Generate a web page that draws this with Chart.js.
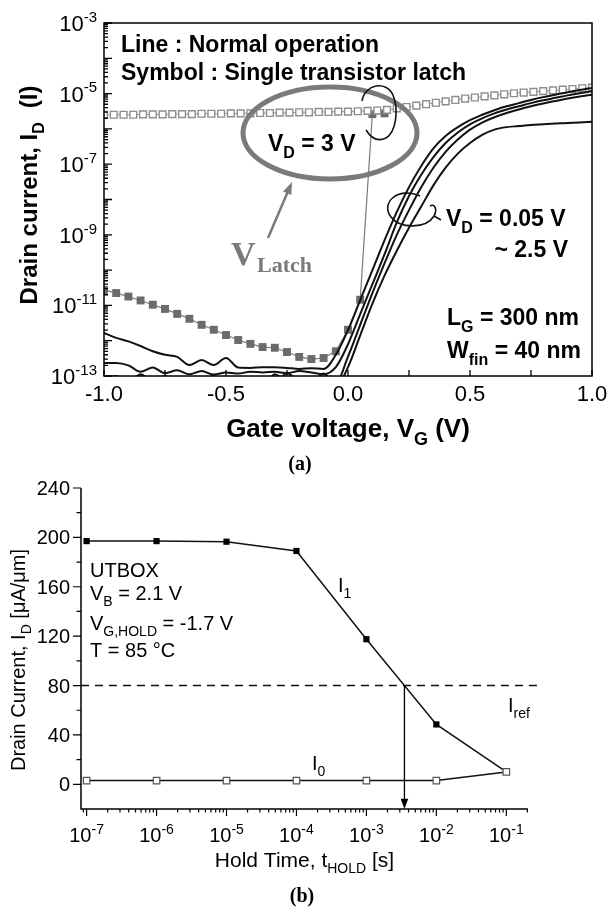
<!DOCTYPE html>
<html>
<head>
<meta charset="utf-8">
<script src="https://cdn.jsdelivr.net/npm/chart.js@4.4.1/dist/chart.umd.min.js"></script>
<style>
  html, body { margin: 0; padding: 0; background: #fff; }
  #wrap { position: relative; width: 608px; height: 909px; overflow: hidden; }
  canvas { position: absolute; left: 0; }
  #cTop { top: 0; }
  #cBot { top: 478px; }
</style>
</head>
<body>
<div id="wrap">
  <canvas id="cTop" width="608" height="478"></canvas>
  <canvas id="cBot" width="608" height="431"></canvas>
</div>
<script>
// ---- (a) transfer curves, values are log10(I_D / A) ----
const vgOpen = [-1.00, -0.96, -0.92, -0.88, -0.84, -0.80, -0.76, -0.72, -0.68, -0.64, -0.60, -0.56, -0.52,
  -0.48, -0.44, -0.40, -0.36, -0.32, -0.28, -0.24, -0.20, -0.16, -0.12, -0.08, -0.04,
  0.00, 0.04, 0.08, 0.12, 0.16, 0.20, 0.24, 0.28, 0.32, 0.36, 0.40, 0.44, 0.48, 0.52,
  0.56, 0.60, 0.64, 0.68, 0.72, 0.76, 0.80, 0.84, 0.88, 0.92, 0.96, 1.00];
// latch, forward sweep (open symbols)
const latchOnLog = [-5.60, -5.60, -5.60, -5.60, -5.59, -5.59, -5.59, -5.58, -5.58, -5.58, -5.57, -5.57, -5.57,
  -5.56, -5.56, -5.56, -5.55, -5.55, -5.54, -5.54, -5.53, -5.53, -5.52, -5.52, -5.51,
  -5.51, -5.50, -5.49, -5.48, -5.46, -5.42, -5.38, -5.34, -5.30, -5.26, -5.22, -5.18, -5.14, -5.11,
  -5.08, -5.05, -5.02, -4.99, -4.97, -4.95, -4.93, -4.91, -4.89, -4.87, -4.85, -4.83];

const vgFilled = [-1.00, -0.95, -0.90, -0.85, -0.80, -0.75, -0.70, -0.65, -0.60, -0.55, -0.50, -0.45,
  -0.40, -0.35, -0.30, -0.25, -0.20, -0.15, -0.10, -0.05, 0.00, 0.05, 0.10, 0.15];
// latch, reverse sweep (filled symbols) - jumps up at V_Latch
const latchOffLog = [-10.56, -10.65, -10.75, -10.86, -10.98, -11.10, -11.24, -11.38, -11.55, -11.69, -11.84, -11.98,
  -12.09, -12.18, -12.20, -12.32, -12.46, -12.52, -12.49, -12.30, -11.69, -10.84, -5.58, -5.56];

const vgLine = [-1.00, -0.95, -0.90, -0.85, -0.80, -0.75, -0.70, -0.65, -0.60, -0.55, -0.50, -0.45, -0.40,
  -0.35, -0.30, -0.25, -0.20, -0.15, -0.10, -0.05, 0.00, 0.05, 0.10, 0.15, 0.20, 0.25, 0.30,
  0.35, 0.40, 0.45, 0.50, 0.55, 0.60, 0.65, 0.70, 0.75, 0.80, 0.85, 0.90, 0.95, 1.00];
// normal operation, V_D from 2.5 V down to 0.05 V
const normalLog1 = [-11.78, -11.92, -12.02, -12.15, -12.30, -12.40, -12.46, -12.69, -12.55, -12.69, -12.49, -12.76, -12.77,
  -12.75, -12.75, -12.77, -12.80, -12.78, -12.80, -12.40, -11.70, -10.85, -10.00, -9.15, -8.35, -7.65, -7.05,
  -6.55, -6.20, -5.95, -5.75, -5.60, -5.47, -5.36, -5.27, -5.18, -5.10, -5.03, -4.96, -4.90, -4.84];
const normalLog2 = [-12.63, -12.63, -12.70, -12.88, -12.76, -12.92, -12.84, -12.95, -12.86, -12.96, -12.90, -12.93, -12.88,
  -12.90, -12.88, -12.92, -12.86, -12.90, -12.95, -12.75, -12.10, -11.25, -10.40, -9.55, -8.65, -7.90, -7.30,
  -6.80, -6.40, -6.10, -5.87, -5.70, -5.56, -5.45, -5.36, -5.27, -5.19, -5.12, -5.05, -4.99, -4.93];
const normalLog3 = [-13.10, -13.00, -13.20, -12.95, -13.15, -13.00, -13.20, -13.05, -13.15, -13.00, -13.20, -13.10, -13.20,
  -13.15, -13.20, -12.92, -13.15, -13.20, -13.10, -13.20, -12.45, -11.55, -10.65, -9.80, -9.00, -8.30, -7.65,
  -7.10, -6.65, -6.30, -6.02, -5.82, -5.67, -5.55, -5.45, -5.36, -5.28, -5.21, -5.14, -5.08, -5.03];
const normalLog4 = [-13.20, -13.10, -13.25, -13.10, -13.30, -13.15, -13.25, -13.10, -13.30, -13.20, -13.30, -13.15, -13.25,
  -13.30, -12.95, -13.20, -13.30, -13.25, -12.93, -13.30, -12.75, -11.85, -10.95, -10.15, -9.45, -8.80, -8.20,
  -7.60, -7.10, -6.70, -6.40, -6.17, -6.02, -5.95, -5.92, -5.89, -5.87, -5.85, -5.83, -5.82, -5.80];

const vgTicks = [-1.0, -0.75, -0.5, -0.25, 0.0, 0.25, 0.5, 0.75, 1.0];
const vgLabels = [-1.0, -0.5, 0.0, 0.5, 1.0];
const idDecadeLabels = [-3, -5, -7, -9, -11, -13];

// ---- (b) retention ----
const holdTime = [1e-7, 1e-6, 1e-5, 1e-4, 1e-3, 1e-2, 1e-1];
const current1 = [197, 197, 196.5, 189, 117.5, 48.5, 10];
const current0 = [3, 3, 3, 3, 3, 3, 10];
const iRef = 80;
const refSpan = [8.3e-8, 0.3];
const holdDecades = [-7, -6, -5, -4, -3, -2, -1];
const currentTicks = [0, 40, 80, 120, 160, 200, 240];

const SANS = '"Liberation Sans", Arial, Helvetica, sans-serif';
const SERIF = '"Liberation Serif", "Times New Roman", serif';

// text with sub/superscripts; parts are [text, 'sub'|'sup'] or a number (extra gap)
function drawRich(ctx, x, y, parts, o) {
  const size = o.size, weight = o.weight || 'normal', family = o.family || SANS;
  const segs = parts.map(p => {
    if (typeof p === 'number') return { gap: p };
    const s = p[1] ? Math.round(size * 0.68) : size;
    ctx.font = `${weight} ${s}px ${family}`;
    return { t: p[0], k: p[1], s, w: ctx.measureText(p[0]).width };
  });
  const total = segs.reduce((acc, s) => acc + (s.gap || s.w), 0);
  let cx = o.align === 'center' ? x - total / 2 : o.align === 'right' ? x - total : x;
  ctx.textAlign = 'left';
  ctx.textBaseline = 'alphabetic';
  ctx.fillStyle = o.color || '#000';
  segs.forEach(s => {
    if (s.gap) { cx += s.gap; return; }
    ctx.font = `${weight} ${s.s}px ${family}`;
    const dy = s.k === 'sub' ? size * 0.3 : s.k === 'sup' ? -size * 0.42 : 0;
    ctx.fillText(s.t, cx, y + dy);
    cx += s.w;
  });
}

function arrow(ctx, x0, y0, x1, y1, head, color, lw) {
  const ang = Math.atan2(y1 - y0, x1 - x0);
  ctx.strokeStyle = color; ctx.fillStyle = color; ctx.lineWidth = lw;
  ctx.beginPath();
  ctx.moveTo(x0, y0);
  ctx.lineTo(x1 - Math.cos(ang) * head * 0.8, y1 - Math.sin(ang) * head * 0.8);
  ctx.stroke();
  ctx.beginPath();
  ctx.moveTo(x1, y1);
  ctx.lineTo(x1 - head * Math.cos(ang - 0.35), y1 - head * Math.sin(ang - 0.35));
  ctx.lineTo(x1 - head * Math.cos(ang + 0.35), y1 - head * Math.sin(ang + 0.35));
  ctx.closePath();
  ctx.fill();
}

const pts = (xs, logs) => xs.map((v, i) => ({ x: v, y: 10 ** logs[i] }));
const normalCurve = logs => ({
  data: pts(vgLine, logs), borderColor: '#111', borderWidth: 2, pointRadius: 0,
  cubicInterpolationMode: 'monotone'
});

const topDecor = {
  id: 'topDecor',
  afterDatasetsDraw(chart) {
    const { ctx, chartArea: a, scales: { x, y } } = chart;
    ctx.save();
    ctx.strokeStyle = '#000';
    ctx.lineWidth = 1.5;
    ctx.strokeRect(a.left, a.top, a.width, a.height);

    // inward ticks
    ctx.lineWidth = 1.3;
    ctx.beginPath();
    for (let e = -13; e <= -3; e++) {
      const py = y.getPixelForValue(10 ** e);
      ctx.moveTo(a.left, py); ctx.lineTo(a.left + 8, py);
      if (e < -3) {
        for (let m = 2; m <= 9; m++) {
          const pm = y.getPixelForValue(m * 10 ** e);
          ctx.moveTo(a.left, pm); ctx.lineTo(a.left + 4, pm);
        }
      }
    }
    vgTicks.forEach(v => {
      const px = x.getPixelForValue(v);
      ctx.moveTo(px, a.bottom); ctx.lineTo(px, a.bottom - 6);
    });
    ctx.stroke();

    idDecadeLabels.forEach(e => {
      const py = y.getPixelForValue(10 ** e);
      drawRich(ctx, a.left - 7, py + 8, [['10'], [String(e), 'sup']], { size: 22, align: 'right' });
    });
    vgLabels.forEach(v => {
      drawRich(ctx, x.getPixelForValue(v), a.bottom + 25, [[v.toFixed(1)]], { size: 22, align: 'center' });
    });

    // axis titles
    drawRich(ctx, (a.left + a.right) / 2, 437, [['Gate voltage, V'], ['G', 'sub'], [' (V)']],
      { size: 26, weight: 'bold', align: 'center' });
    ctx.save();
    ctx.translate(28, 195);
    ctx.rotate(-Math.PI / 2);
    drawRich(ctx, 0, 8.5, [['Drain current, I'], ['D', 'sub'], 14, ['(I)']],
      { size: 24, weight: 'bold', align: 'center' });
    ctx.restore();
    drawRich(ctx, 300, 470, [['(a)']], { size: 20, weight: 'bold', family: SERIF, align: 'center' });

    // annotations
    const b = { size: 23, weight: 'bold' };
    drawRich(ctx, 121, 52, [['Line : Normal operation']], b);
    drawRich(ctx, 121, 80, [['Symbol : Single transistor latch']], b);
    drawRich(ctx, 268, 151, [['V'], ['D', 'sub'], [' = 3 V']], b);
    drawRich(ctx, 446, 226, [['V'], ['D', 'sub'], [' = 0.05 V']], b);
    drawRich(ctx, 568, 257, [['~ 2.5 V']], { ...b, align: 'right' });
    drawRich(ctx, 447, 325, [['L'], ['G', 'sub'], [' = 300 nm']], b);
    drawRich(ctx, 447, 358, [['W'], ['fin', 'sub'], [' = 40 nm']], b);

    // V_Latch marker
    ctx.strokeStyle = '#7a7a7a';
    ctx.lineWidth = 5;
    ctx.beginPath();
    ctx.ellipse(330, 133, 87, 46, 0, 0, Math.PI * 2);
    ctx.stroke();
    arrow(ctx, 268, 238, 292, 182, 13, '#7a7a7a', 2.5);
    ctx.fillStyle = '#7a7a7a';
    ctx.font = `bold 34px ${SERIF}`;
    ctx.fillText('V', 231, 265);
    ctx.font = `bold 22px ${SERIF}`;
    ctx.fillText('Latch', 257, 272);

    // grouping loops
    ctx.strokeStyle = '#111';
    ctx.lineWidth = 1.6;
    ctx.beginPath();
    ctx.moveTo(362, 101);
    ctx.bezierCurveTo(365, 84, 386, 80, 393, 95);
    ctx.bezierCurveTo(399, 110, 396, 132, 386, 138);
    ctx.bezierCurveTo(378, 142, 371, 138, 366, 130);
    ctx.stroke();
    ctx.beginPath();
    ctx.moveTo(420, 196);
    ctx.bezierCurveTo(398, 186, 380, 203, 391, 217);
    ctx.bezierCurveTo(400, 229, 426, 229, 434, 216);
    ctx.bezierCurveTo(438, 209, 434, 203, 430, 206);
    ctx.moveTo(434, 216);
    ctx.lineTo(441, 220);
    ctx.stroke();
    ctx.restore();
  }
};

new Chart(document.getElementById('cTop'), {
  type: 'line',
  data: {
    datasets: [
      normalCurve(normalLog1),
      normalCurve(normalLog2),
      normalCurve(normalLog3),
      normalCurve(normalLog4),
      {
        data: pts(vgOpen, latchOnLog), borderColor: '#9c9c9c', borderWidth: 1,
        pointStyle: 'rect', pointRadius: 4.8, pointBackgroundColor: '#fff',
        pointBorderColor: '#8e8e8e', pointBorderWidth: 1.4
      },
      {
        data: pts(vgFilled, latchOffLog), borderColor: '#7a7a7a', borderWidth: 1.2,
        pointStyle: 'rect', pointRadius: 5.6, pointBackgroundColor: '#6b6b6b',
        pointBorderColor: '#6b6b6b', pointBorderWidth: 0
      }
    ]
  },
  options: {
    responsive: false, animation: false, events: [],
    layout: { padding: { left: 104, right: 16, top: 23, bottom: 102 } },
    plugins: { legend: { display: false }, tooltip: { enabled: false } },
    scales: {
      x: { type: 'linear', min: -1, max: 1, display: false },
      y: { type: 'logarithmic', min: 1e-13, max: 1e-3, display: false }
    }
  },
  plugins: [topDecor]
});

const botDecor = {
  id: 'botDecor',
  afterDatasetsDraw(chart) {
    const { ctx, chartArea: a, scales: { x, y } } = chart;
    ctx.save();
    ctx.strokeStyle = '#000';
    ctx.lineWidth = 1.5;
    ctx.beginPath();
    ctx.moveTo(a.left, a.top); ctx.lineTo(a.left, a.bottom); ctx.lineTo(a.right, a.bottom);
    ctx.stroke();

    // outward ticks
    ctx.lineWidth = 1.2;
    ctx.beginPath();
    currentTicks.forEach(v => {
      const py = y.getPixelForValue(v);
      ctx.moveTo(a.left - 8, py); ctx.lineTo(a.left, py);
      if (v < 240) {
        const pm = y.getPixelForValue(v + 20);
        ctx.moveTo(a.left - 4.5, pm); ctx.lineTo(a.left, pm);
      }
    });
    for (let e = -8; e <= -1; e++) {
      for (let m = 1; m <= 9; m++) {
        const v = m * 10 ** e;
        if (v < x.min || v > x.max) continue;
        const px = x.getPixelForValue(v);
        ctx.moveTo(px, a.bottom); ctx.lineTo(px, a.bottom + (m === 1 ? 7 : 3.5));
      }
    }
    ctx.stroke();

    currentTicks.forEach(v => {
      drawRich(ctx, a.left - 11, y.getPixelForValue(v) + 7, [[String(v)]], { size: 20, align: 'right' });
    });
    holdDecades.forEach(e => {
      drawRich(ctx, x.getPixelForValue(10 ** e), a.bottom + 33, [['10'], [String(e), 'sup']],
        { size: 20, align: 'center' });
    });

    drawRich(ctx, (a.left + a.right) / 2, a.bottom + 58, [['Hold Time, t'], ['HOLD', 'sub'], [' [s]']],
      { size: 21, align: 'center' });
    ctx.save();
    ctx.translate(18, 182);
    ctx.rotate(-Math.PI / 2);
    drawRich(ctx, 0, 7, [['Drain Current, I'], ['D', 'sub'], [' [\u03bcA/\u03bcm]']], { size: 20, align: 'center' });
    ctx.restore();
    drawRich(ctx, 302, 424, [['(b)']], { size: 20, weight: 'bold', family: SERIF, align: 'center' });

    // threshold crossing of I1 with Iref (log-time interpolation)
    let tCross = holdTime[0];
    for (let i = 1; i < holdTime.length; i++) {
      if (current1[i - 1] >= iRef && current1[i] < iRef) {
        const f = (current1[i - 1] - iRef) / (current1[i - 1] - current1[i]);
        tCross = 10 ** (Math.log10(holdTime[i - 1]) + f * (Math.log10(holdTime[i]) - Math.log10(holdTime[i - 1])));
        break;
      }
    }
    const px = x.getPixelForValue(tCross);
    arrow(ctx, px, y.getPixelForValue(iRef), px, a.bottom, 11, '#000', 1.3);

    const t = { size: 20 };
    drawRich(ctx, 90, 99, [['UTBOX']], t);
    drawRich(ctx, 90, 122, [['V'], ['B', 'sub'], [' = 2.1 V']], t);
    drawRich(ctx, 90, 152, [['V'], ['G,HOLD', 'sub'], [' = -1.7 V']], t);
    drawRich(ctx, 90, 179, [['T = 85 \u00b0C']], t);
    drawRich(ctx, 338, 114, [['I'], ['1', 'sub']], t);
    drawRich(ctx, 312, 292, [['I'], ['0', 'sub']], t);
    drawRich(ctx, 508, 234, [['I'], ['ref', 'sub']], t);
    ctx.restore();
  }
};

new Chart(document.getElementById('cBot'), {
  type: 'line',
  data: {
    datasets: [
      {
        data: holdTime.map((t, i) => ({ x: t, y: current0[i] })), borderColor: '#111', borderWidth: 1.5,
        pointStyle: 'rect', pointRadius: 4.6, pointBackgroundColor: '#fff',
        pointBorderColor: '#555', pointBorderWidth: 1.2
      },
      {
        data: holdTime.map((t, i) => ({ x: t, y: current1[i] })), borderColor: '#111', borderWidth: 1.5,
        pointStyle: 'rect', pointRadius: 4.4, pointBackgroundColor: '#000',
        pointBorderColor: '#000', pointBorderWidth: 0
      },
      {
        data: refSpan.map(t => ({ x: t, y: iRef })), borderColor: '#111', borderWidth: 1.5,
        borderDash: [8, 6], pointRadius: 0, clip: false
      }
    ]
  },
  options: {
    responsive: false, animation: false, events: [],
    layout: { padding: { left: 81, right: 80, top: 10, bottom: 100 } },
    plugins: { legend: { display: false }, tooltip: { enabled: false } },
    scales: {
      x: { type: 'logarithmic', min: 10 ** -7.08, max: 10 ** -0.69, display: false },
      y: { type: 'linear', min: -20, max: 240, display: false }
    }
  },
  plugins: [botDecor]
});
</script>
</body>
</html>
